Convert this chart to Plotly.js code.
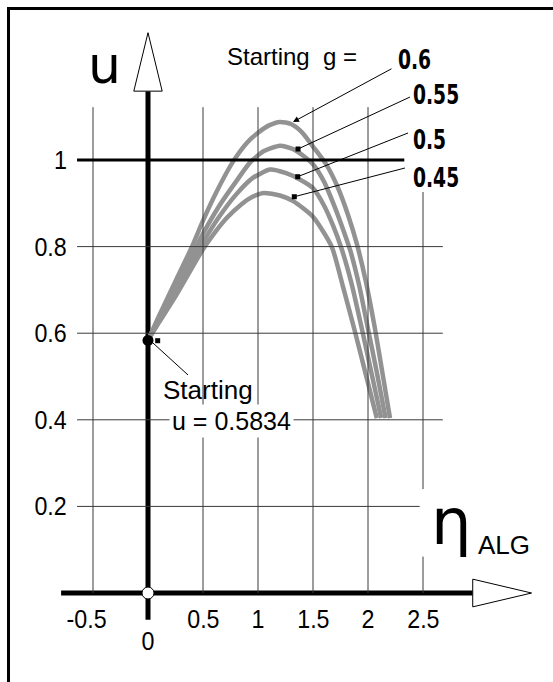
<!DOCTYPE html>
<html><head><meta charset="utf-8">
<script src="https://cdn.plot.ly/plotly-3.0.1.min.js"></script>
<style>html,body{margin:0;padding:0;background:#fff}</style>
</head><body><div id="chart" style="width:553px;height:682px"></div>
<script>
// ---- data ----
const gLabels = ['0.6', '0.55', '0.5', '0.45'];
const eta06 = [0, 0.1, 0.25, 0.4, 0.5, 0.62, 0.77, 0.9, 1.0, 1.1, 1.2, 1.3, 1.4, 1.5, 1.62, 1.72, 1.82, 1.9, 1.98, 2.06, 2.13, 2.2];
const u06   = [0.5834, 0.64, 0.72, 0.80, 0.86, 0.925, 0.995, 1.04, 1.063, 1.08, 1.088, 1.083, 1.064, 1.031, 0.99, 0.94, 0.872, 0.805, 0.72, 0.615, 0.51, 0.404];
const eta055 = [0, 0.1, 0.25, 0.4, 0.5, 0.65, 0.8, 0.93, 1.05, 1.2, 1.32, 1.42, 1.5, 1.6, 1.7, 1.78, 1.84, 1.92, 2.0, 2.08, 2.16];
const u055   = [0.5834, 0.635, 0.708, 0.78, 0.83, 0.895, 0.95, 0.995, 1.02, 1.033, 1.025, 1.008, 0.99, 0.95, 0.89, 0.835, 0.79, 0.71, 0.61, 0.51, 0.404];
const eta05 = [0, 0.1, 0.25, 0.4, 0.5, 0.65, 0.8, 0.95, 1.11, 1.25, 1.38, 1.5, 1.6, 1.68, 1.76, 1.85, 1.94, 2.03, 2.12];
const u05   = [0.5834, 0.63, 0.697, 0.765, 0.81, 0.87, 0.92, 0.958, 0.978, 0.97, 0.955, 0.935, 0.895, 0.85, 0.795, 0.715, 0.615, 0.51, 0.404];
const eta045 = [0, 0.1, 0.25, 0.49, 0.6, 0.715, 0.85, 0.95, 1.05, 1.2, 1.32, 1.5, 1.67, 1.77, 1.88, 1.98, 2.08];
const u045   = [0.5834, 0.625, 0.685, 0.79, 0.83, 0.866, 0.898, 0.915, 0.924, 0.918, 0.905, 0.869, 0.80, 0.71, 0.605, 0.505, 0.404];
const startU = 0.5834;
const xTickVals = [-0.5, 0.5, 1, 1.5, 2, 2.5];
const xTickText = ['-0.5', '0.5', '1', '1.5', '2', '2.5'];
const yTickVals = [0.2, 0.4, 0.6, 0.8, 1];
const yTickText = ['0.2', '0.4', '0.6', '0.8', '1'];
// label leader points (where each leader meets its curve)
const leadEta = [1.318, 1.364, 1.361, 1.33];
const leadU   = [1.0878, 1.0254, 0.9614, 0.9152];

// ---- drawing ----
const narrow = 'Liberation Sans Narrow, DejaVu Sans Condensed, Arial Narrow, Liberation Sans, sans-serif';
const sans = 'Liberation Sans, Arial, sans-serif';
const heavy = 'DejaVu Sans, sans-serif';
const curveColor = '#929292';
const gridColor = '#3a3a3a';

const etas = [eta06, eta055, eta05, eta045];
const us = [u06, u055, u05, u045];
const traces = etas.map((e, i) => ({
  x: e, y: us[i], type: 'scatter', mode: 'lines', name: 'g = ' + gLabels[i],
  line: {color: curveColor, width: 4.5, shape: 'spline', smoothing: 0.6},
  hoverinfo: 'skip'
}));
traces.push({x: leadEta.slice(1).concat([0.088]), y: leadU.slice(1).concat([0.5827]), type: 'scatter', mode: 'markers',
  marker: {symbol: 'square', size: 5, color: '#000'}, hoverinfo: 'skip'});
traces.push({x: [0], y: [startU], type: 'scatter', mode: 'markers',
  marker: {symbol: 'circle', size: 11, color: '#000'}, hoverinfo: 'skip'});
traces.push({x: [0], y: [0], type: 'scatter', mode: 'markers',
  marker: {symbol: 'circle', size: 12, color: '#fff', line: {color: '#000', width: 1}}, hoverinfo: 'skip'});

const shapes = [];
shapes.push({type: 'line', xref: 'paper', yref: 'paper', x0: 8.5/553, x1: 8.5/553, y0: 0, y1: 1 - 7/682, line: {color: '#000', width: 3}});
shapes.push({type: 'line', xref: 'paper', yref: 'paper', x0: 7/553, x1: 1, y0: 1 - 8.5/682, y1: 1 - 8.5/682, line: {color: '#000', width: 3}});
xTickVals.forEach(v => {
  if (v === 2.5) {
    shapes.push({type: 'line', x0: v, x1: v, y0: 0.926, y1: 0.24, line: {color: gridColor, width: 1}});
    shapes.push({type: 'line', x0: v, x1: v, y0: 0, y1: 0.084, line: {color: gridColor, width: 1}});
  } else {
    shapes.push({type: 'line', x0: v, x1: v, y0: 0, y1: 1.122, line: {color: gridColor, width: 1}});
  }
});
yTickVals.forEach(v => {
  if (v === 1) {
    shapes.push({type: 'line', x0: -0.645, x1: 2.33, y0: v, y1: v, line: {color: '#000', width: 3}});
  } else {
    const xe = v === 0.2 ? 2.47 : 2.68;
    shapes.push({type: 'line', x0: -0.645, x1: xe, y0: v, y1: v, line: {color: gridColor, width: 1}});
  }
});
shapes.push({type: 'line', layer: 'below', x0: -0.79, x1: 2.952, y0: 0, y1: 0, line: {color: '#000', width: 5}});
shapes.push({type: 'line', layer: 'below', x0: 0, x1: 0, y0: -0.062, y1: 1.159, line: {color: '#000', width: 5}});
shapes.push({type: 'path', path: 'M 2.952 0.032 L 3.487 0 L 2.952 -0.032 Z', fillcolor: '#fff', line: {color: '#000', width: 1}});
shapes.push({type: 'path', path: 'M -0.129 1.159 L 0 1.294 L 0.129 1.159 Z', fillcolor: '#fff', line: {color: '#000', width: 1}});
shapes.push({type: 'line', x0: 2.382, y0: 1.1455, x1: leadEta[1], y1: leadU[1], line: {color: '#000', width: 1}});
shapes.push({type: 'line', x0: 2.364, y0: 1.0624, x1: leadEta[2], y1: leadU[2], line: {color: '#000', width: 1}});
shapes.push({type: 'line', x0: 2.336, y0: 0.9815, x1: leadEta[3], y1: leadU[3], line: {color: '#000', width: 1}});
shapes.push({type: 'line', x0: 0.045, y0: 0.5774, x1: 0.364, y1: 0.5035, line: {color: '#000', width: 1}});

const annotations = [];
const condensedIdx = [];
function addNarrow(a, anchorSide, sc) { condensedIdx.push([annotations.length, anchorSide, sc]); annotations.push(a); }
xTickVals.forEach((v, i) => addNarrow({x: v, y: -0.06, text: xTickText[i], showarrow: false,
  xanchor: 'center', yanchor: 'middle', xshift: v < 0 ? -7 : 0, font: {family: sans, size: 25, color: '#000'}}, 'c', 0.93));
addNarrow({x: 0, y: -0.111, text: '0', showarrow: false, xanchor: 'center', yanchor: 'middle',
  font: {family: sans, size: 25, color: '#000'}}, 'c', 0.93);
yTickVals.forEach((v, i) => addNarrow({x: -0.72, y: v, text: yTickText[i], showarrow: false,
  xanchor: 'right', yanchor: 'middle', font: {family: sans, size: 25, color: '#000'}}, 'r', 0.93));
annotations.push({x: leadEta[0], y: leadU[0], ax: 2.227, ay: 1.2125, axref: 'x', ayref: 'y', text: '',
  showarrow: true, arrowhead: 2, arrowsize: 1.2, arrowwidth: 1, arrowcolor: '#000'});
annotations.push({x: 0.70, y: 1.24, text: 'Starting&nbsp; g =', showarrow: false, xanchor: 'left', yanchor: 'middle',
  font: {family: sans, size: 24, color: '#000'}});
const gLabelY = [1.232, 1.149, 1.046, 0.958];
const gLabelX = [2.255, 2.39, 2.39, 2.39];
gLabels.forEach((t, i) => addNarrow({x: gLabelX[i], y: gLabelY[i], text: '<b>' + t + '</b>', showarrow: false,
  xanchor: 'left', yanchor: 'middle', font: {family: narrow, size: 26, color: '#000'}}, 'l', 0.8));
annotations.push({x: 0.12, y: 0.47, text: 'Starting', showarrow: false, xanchor: 'left', yanchor: 'middle',
  font: {family: sans, size: 26, color: '#000'}});
annotations.push({x: 0.19, y: 0.398, text: 'u = ' + startU, showarrow: false, xanchor: 'left', yanchor: 'middle',
  bgcolor: '#fff', borderpad: 2, font: {family: sans, size: 25, color: '#000'}});
annotations.push({x: -0.40, y: 1.22, text: 'u', showarrow: false, xanchor: 'center', yanchor: 'middle',
  font: {family: heavy, size: 52, color: '#000'}});
annotations.push({x: 2.76, y: 0.165, text: 'η', showarrow: false, xanchor: 'center', yanchor: 'middle',
  bgcolor: '#fff', font: {family: heavy, size: 64, color: '#000'}});
annotations.push({x: 2.98, y: 0.11, text: 'ALG', showarrow: false, xanchor: 'left', yanchor: 'middle',
  font: {family: sans, size: 26, color: '#000'}});

const layout = {
  width: 553, height: 682, margin: {l: 0, r: 0, t: 0, b: 0},
  paper_bgcolor: '#fff', plot_bgcolor: '#fff', showlegend: false,
  xaxis: {range: [-1.3455, 3.6818], visible: false, fixedrange: true},
  yaxis: {range: [-0.2055, 1.3695], visible: false, fixedrange: true},
  shapes: shapes, annotations: annotations
};
Plotly.newPlot('chart', traces, layout, {staticPlot: true, displayModeBar: false}).then(gd => {
  // narrow look for tick and g labels: condensed face if present, otherwise a horizontal squeeze
  condensedIdx.forEach(([idx, side, sc]) => {
    const t = gd.querySelector('g.annotation[data-index="' + idx + '"] text.annotation-text');
    if (!t) return;
    const w0 = t.getBBox().width;
    t.style.fontStretch = 'condensed';
    const w1 = t.getBBox().width;
    if (w1 > w0 * 0.92 || sc > 0.9) {
      t.style.fontStretch = '';
      const b = t.getBBox();
      const cx = side === 'c' ? b.x + b.width / 2 : side === 'r' ? b.x + b.width : b.x;
      t.setAttribute('transform', 'translate(' + cx + ',0) scale(' + sc + ',1) translate(' + (-cx) + ',0)');
    }
  });
});
</script></body></html>
